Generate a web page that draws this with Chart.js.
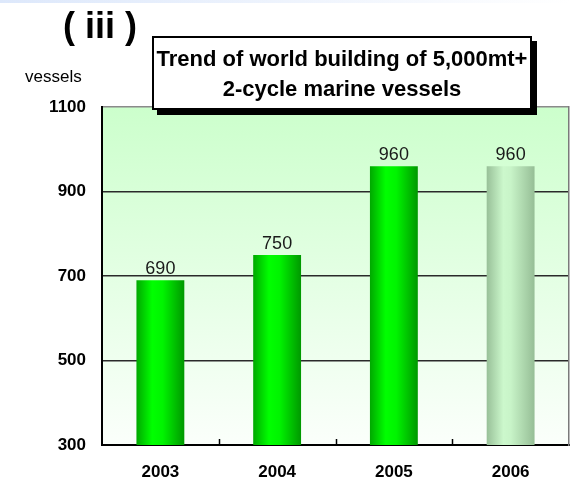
<!DOCTYPE html>
<html>
<head>
<meta charset="utf-8">
<script src="https://cdn.jsdelivr.net/npm/chart.js@4/dist/chart.umd.min.js"></script>
<style>
  html, body { margin: 0; padding: 0; background: #fff; }
  #wrap { position: relative; width: 571px; height: 481px; overflow: hidden; font-family: "Liberation Sans", Arial, sans-serif; }
  #strip { position: absolute; left: 0; top: 0; width: 571px; height: 3px; background: linear-gradient(to right, #dde8fb, #ffffff); }
  #chart { position: absolute; left: 0; top: 0; }
  #part { position: absolute; left: 0; top: 8px; width: 200px; text-align: center; font-weight: bold; font-size: 36px; line-height: 36px; color: #000; }
  #unit { position: absolute; left: 25px; top: 67px; font-size: 17px; line-height: 20px; color: #000; }
  #title { position: absolute; left: 152px; top: 36px; width: 380px; height: 74px; box-sizing: border-box; border: 2px solid #000; background: #fff; box-shadow: 5px 5px 0 #000; text-align: center; font-weight: bold; font-size: 22px; line-height: 30px; padding-top: 6px; color: #000; z-index: 2; }
</style>
</head>
<body>
<div id="wrap">
  <div id="strip"></div>
  <canvas id="chart" width="571" height="481"></canvas>
  <div id="part">( iii )</div>
  <div id="unit">vessels</div>
  <div id="title">Trend of world building of 5,000mt+<br>2-cycle marine vessels</div>
</div>
<script>
// World building of 5,000mt+ 2-cycle marine vessels, by year
const years = ['2003', '2004', '2005', '2006'];
const vessels = [690, 750, 960, 960];
const isForecast = [false, false, false, true];
const yTicks = [300, 500, 700, 900, 1100];

const BAR_PCT = 0.41;

// horizontal shading across each bar, like a cylinder
function barFill(context) {
  const chart = context.chart;
  const xs = chart.scales && chart.scales.x;
  if (!xs || !chart.chartArea) return '#00ff00';
  const i = context.dataIndex;
  const cx = xs.getPixelForValue(i);
  const half = (xs.width / years.length) * BAR_PCT / 2;
  const g = chart.ctx.createLinearGradient(cx - half, 0, cx + half, 0);
  if (isForecast[i]) {
    g.addColorStop(0, '#98c098');
    g.addColorStop(0.35, '#ccf8cc');
    g.addColorStop(0.5, '#c8f4c8');
    g.addColorStop(1, '#96be96');
  } else {
    g.addColorStop(0, '#00a800');
    g.addColorStop(0.33, '#00ff00');
    g.addColorStop(0.55, '#00f400');
    g.addColorStop(1, '#009800');
  }
  return g;
}

// pale green wash behind the plot
const plotBackground = {
  id: 'plotBackground',
  beforeDraw(chart) {
    const { ctx, chartArea: a } = chart;
    const g = ctx.createLinearGradient(0, a.top, 0, a.bottom);
    g.addColorStop(0, '#ccffcc');
    g.addColorStop(0.55, '#e6ffe6');
    g.addColorStop(1, '#fbfffb');
    ctx.save();
    ctx.fillStyle = g;
    ctx.fillRect(a.left, a.top, a.right - a.left, a.bottom - a.top);
    ctx.restore();
  }
};

// short inward tick marks between categories on the bottom axis
const innerTicks = {
  id: 'innerTicks',
  afterDraw(chart) {
    const xs = chart.scales.x;
    const bottom = chart.chartArea.bottom;
    const ctx = chart.ctx;
    ctx.save();
    ctx.strokeStyle = '#000';
    ctx.lineWidth = 1.5;
    for (let i = 1; i < years.length; i++) {
      const x = Math.round((xs.getPixelForValue(i - 1) + xs.getPixelForValue(i)) / 2) + 0.5;
      ctx.beginPath();
      ctx.moveTo(x, bottom - 6);
      ctx.lineTo(x, bottom);
      ctx.stroke();
    }
    ctx.restore();
  }
};

// value printed above each bar
const valueLabels = {
  id: 'valueLabels',
  afterDatasetsDraw(chart) {
    const ctx = chart.ctx;
    const meta = chart.getDatasetMeta(0);
    ctx.save();
    ctx.font = '18px "Liberation Sans", Arial, sans-serif';
    ctx.fillStyle = '#1a1a1a';
    ctx.textAlign = 'center';
    ctx.textBaseline = 'alphabetic';
    meta.data.forEach((el, i) => {
      ctx.fillText(String(vessels[i]), el.x, el.y - 6);
    });
    ctx.restore();
  }
};

new Chart(document.getElementById('chart'), {
  type: 'bar',
  data: {
    labels: years,
    datasets: [{
      data: vessels,
      backgroundColor: barFill,
      borderWidth: 0,
      barPercentage: BAR_PCT,
      categoryPercentage: 1
    }]
  },
  options: {
    responsive: false,
    devicePixelRatio: 1,
    animation: false,
    layout: { padding: { top: 107, right: 0, left: 0, bottom: 0 } },
    plugins: { legend: { display: false }, tooltip: { enabled: false }, title: { display: false } },
    scales: {
      x: {
        grid: { display: true, drawOnChartArea: false, drawTicks: false },
        border: { display: true, color: '#000', width: 2 },
        ticks: {
          color: '#000',
          font: { family: '"Liberation Sans", Arial, sans-serif', size: 17, weight: 'bold' },
          padding: 17,
          maxRotation: 0
        },
        afterFit(s) { s.height = 36; }
      },
      y: {
        min: 300,
        max: 1100,
        afterBuildTicks(s) { s.ticks = yTicks.map(v => ({ value: v })); },
        grid: {
          drawTicks: false,
          lineWidth: 1.5,
          color: (c) => (c.tick && c.tick.value === 1100) ? '#8a8a8a' : '#2a2a2a'
        },
        border: { display: true, color: '#000', width: 2 },
        ticks: {
          color: '#000',
          font: { family: '"Liberation Sans", Arial, sans-serif', size: 17, weight: 'bold' },
          padding: 16,
          callback: (v) => String(v)
        },
        afterFit(s) { s.width = 102; }
      },
      yRight: {
        position: 'right',
        min: 300,
        max: 1100,
        grid: { drawOnChartArea: false, drawTicks: false },
        border: { display: true, color: '#7a7a7a', width: 1.5 },
        ticks: { display: false },
        afterFit(s) { s.width = 2; }
      }
    }
  },
  plugins: [plotBackground, innerTicks, valueLabels]
});
</script>
</body>
</html>
